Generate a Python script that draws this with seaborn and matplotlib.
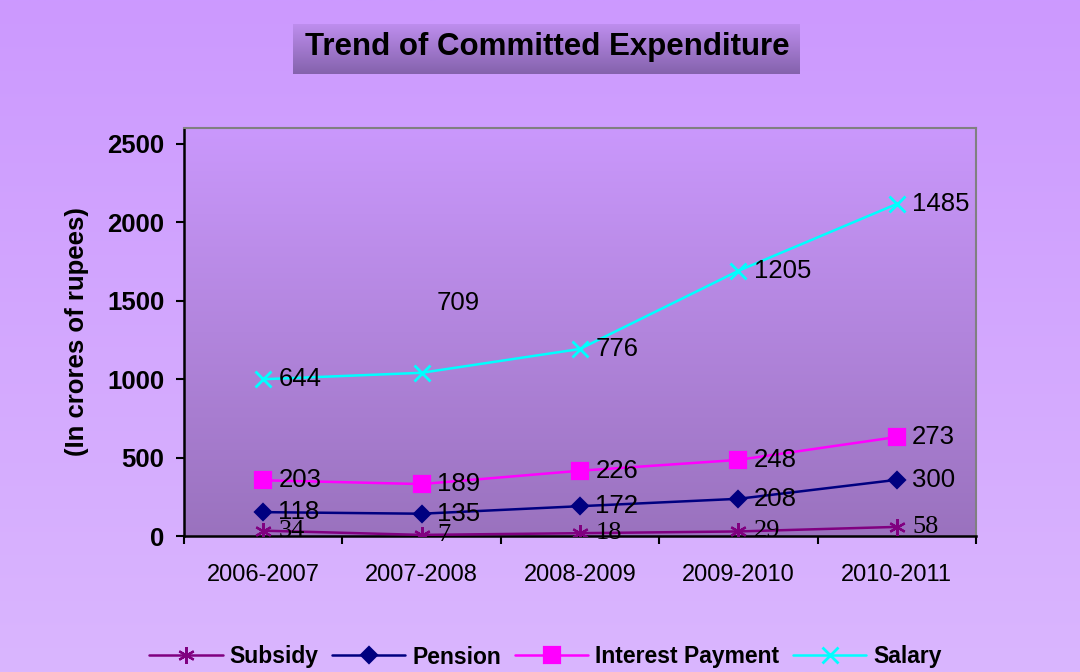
import numpy as np
import pandas as pd
import matplotlib
matplotlib.use("Agg")
import matplotlib.pyplot as plt
import seaborn as sns

years = ["2006-2007", "2007-2008", "2008-2009", "2009-2010", "2010-2011"]
subsidy = [34, 7, 18, 29, 58]
pension = [118, 135, 172, 208, 300]
interest = [203, 189, 226, 248, 273]
salary = [644, 709, 776, 1205, 1485]

series_names = ["Subsidy", "Pension", "Interest Payment", "Salary"]
series_vals = [subsidy, pension, interest, salary]
colors = ["#800080", "#000080", "#FF00FF", "#00FFFF"]
markers = [(6, 2, 0), "D", "s", "x"]
msizes = [12, 8.5, 11, 11]

sns.set_style("white")
plt.rcParams["font.family"] = ["Liberation Sans", "DejaVu Sans"]
for k in ["text.color", "axes.labelcolor", "xtick.color", "ytick.color"]:
    plt.rcParams[k] = "black"

# stacked line chart: each line sits on the ones below it
df = pd.DataFrame(dict(zip(series_names, series_vals)), index=years)
cum = df.cumsum(axis=1)
pos = np.arange(len(years))


def vgrad(top, bottom, n=256):
    t = np.linspace(0, 1, n)[:, None]
    top = np.array(top) / 255.0
    bottom = np.array(bottom) / 255.0
    return (top * (1 - t) + bottom * t)[:, None, :].repeat(2, axis=1)


fig = plt.figure(figsize=(10.8, 6.72), dpi=100)

# figure background gradient
bg = fig.add_axes([0, 0, 1, 1], zorder=-10)
bg.imshow(vgrad((204, 153, 255), (218, 182, 254)), aspect="auto", extent=[0, 1, 0, 1])
bg.axis("off")

# title box
tb = fig.add_axes([293 / 1080, 1 - 74 / 672, 507 / 1080, 50 / 672], zorder=-5)
tb.imshow(vgrad((190, 142, 238), (132, 98, 172)), aspect="auto", extent=[0, 1, 0, 1])
tb.axis("off")
fig.text(0.507, 1 - 47 / 672, "Trend of Committed Expenditure", ha="center", va="center",
         fontsize=22.5, fontweight="bold")

ax = fig.add_axes([184 / 1080, 1 - 536 / 672, 792 / 1080, 408 / 672])
ax.imshow(vgrad((202, 152, 252), (154, 114, 190)), aspect="auto",
          extent=[-0.5, 4.5, 0, 2600], zorder=0)

for name, col, mk, ms in zip(series_names, colors, markers, msizes):
    sns.lineplot(x=pos, y=cum[name].values, color=col, marker=mk, markersize=ms,
                 markeredgecolor=col, markeredgewidth=1.6 if name != "Salary" else 2,
                 linewidth=1.8, label=name, ax=ax, zorder=3)

# data labels show the raw values
label_shift = {("Salary", 1): 50}
for name in series_names:
    serif = name == "Subsidy"
    fam = ["Liberation Serif"] if serif else ["Liberation Sans"]
    for i in pos:
        dy = label_shift.get((name, i), 0)
        ax.annotate(str(df[name].iloc[i]), (i, cum[name].iloc[i]), xytext=(11, dy),
                    textcoords="offset points", ha="left", va="center",
                    fontsize=19 if serif else 18.5, family=fam, zorder=4)

ax.set_xlim(-0.5, 4.5)
ax.set_ylim(0, 2600)
ax.set_yticks([0, 500, 1000, 1500, 2000, 2500])
ax.set_xticks(np.arange(-0.5, 5, 1))
ax.set_xticklabels([])
ax.set_xticks(pos, minor=True)
ax.set_xticklabels(years, minor=True, fontsize=17)
ax.tick_params(axis="x", which="minor", length=0, pad=20)
ax.tick_params(axis="x", which="major", direction="out", length=6, width=1.5, color="black", bottom=True)
ax.tick_params(axis="y", direction="out", length=6, width=1.5, color="black", left=True,
               labelsize=18.5, pad=8)
for lab in ax.get_yticklabels():
    lab.set_fontweight("bold")

ax.set_ylabel("(In crores of rupees)", fontsize=18.5, fontweight="bold")
ax.yaxis.set_label_coords(-0.12, 0.5)
ax.set_xlabel("")

for s in ["top", "right"]:
    ax.spines[s].set_color("#808080")
    ax.spines[s].set_linewidth(1.5)
for s in ["left", "bottom"]:
    ax.spines[s].set_color("black")
    ax.spines[s].set_linewidth(1.8)

handles, labels = ax.get_legend_handles_labels()
ax.get_legend().remove()
fig.legend(handles, labels, loc="center", bbox_to_anchor=(0.505, 1 - 657 / 672), ncol=4,
           frameon=False, handlelength=3.2, columnspacing=0.6, handletextpad=0.3,
           prop={"weight": "bold", "size": 16.5})

fig.savefig("out.png", dpi=100)
